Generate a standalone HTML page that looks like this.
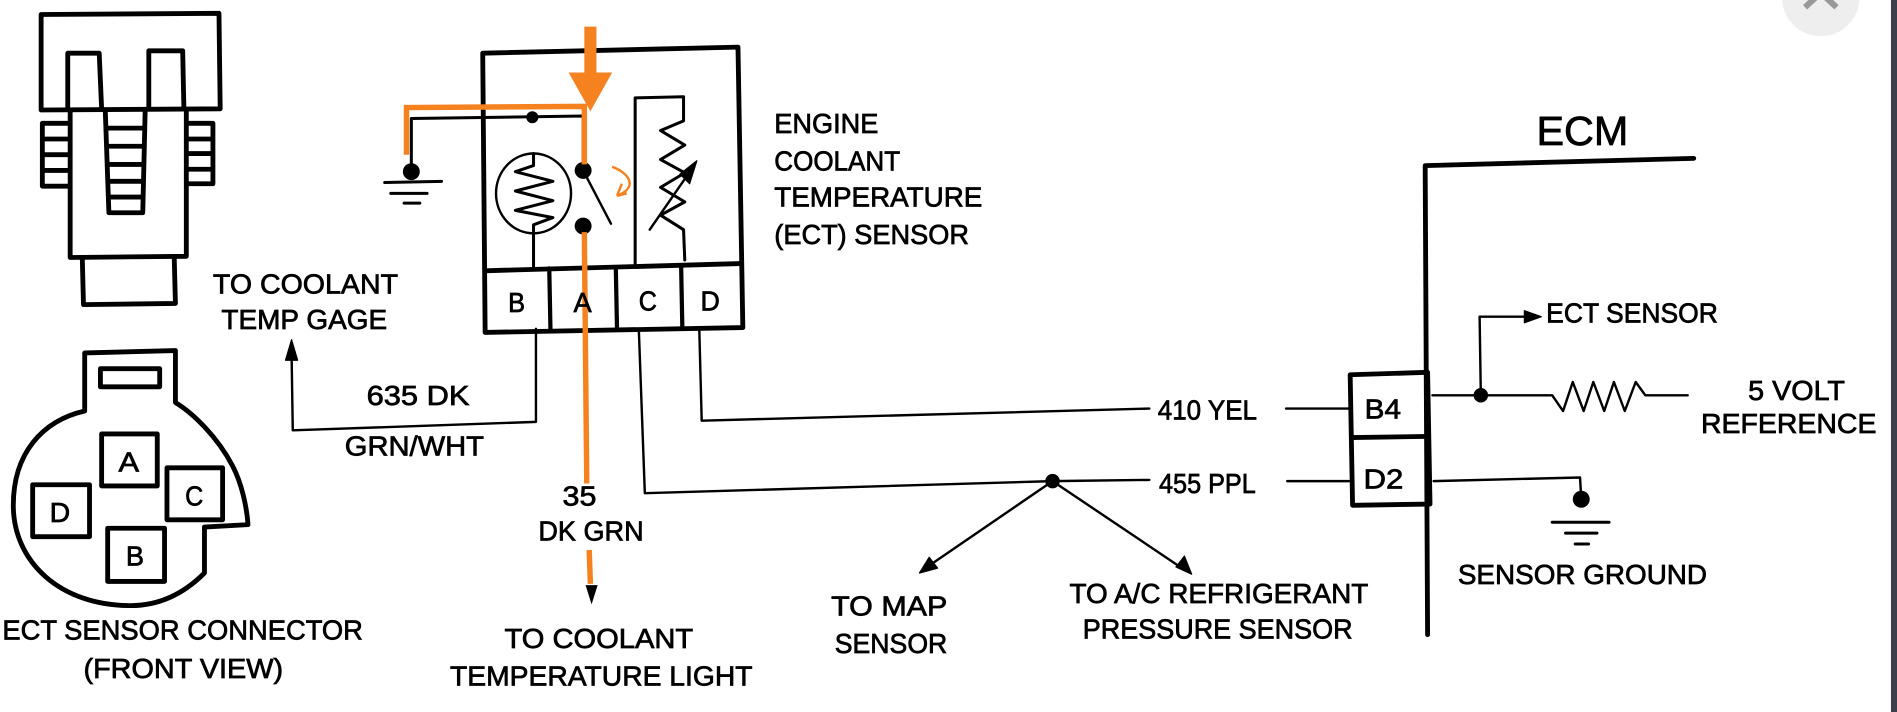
<!DOCTYPE html>
<html><head><meta charset="utf-8"><style>
html,body{margin:0;padding:0;background:#fff;}
svg{display:block;}
text{font-family:"Liberation Sans",sans-serif;font-size:23px;fill:#000;stroke:#000;stroke-width:0.6;}
</style></head><body>
<svg width="1897" height="712" viewBox="0 0 1568 589" preserveAspectRatio="none" xmlns="http://www.w3.org/2000/svg">
<rect width="1568" height="589" fill="#fff"/>
<circle cx="1505" cy="-2" r="32" fill="#eeeeee"/>
<path d="M1492,6 L1505,-6 L1518,6" stroke="#999" stroke-width="5" fill="none"/>
<rect x="1563" y="0" width="5" height="589" fill="#3a3f4a"/>
<g fill="none" stroke="#000" stroke-linecap="round" stroke-linejoin="round">
<!-- connector side view -->
<g stroke-width="4">
<path d="M34,12 L181,11 L182,90 L34,91 Z"/>
<path d="M56,90 L56,44 L82,44 L84,90"/>
<path d="M123,90 L123,42 L151,42 L152,90"/>
<path d="M58,91 L58,213 L154,212 L154,91"/>
<path d="M87,91 L90,176 L118,176 L120,91"/>
<path d="M68,213 L69,252 L145,251 L144,213"/>
<path d="M56,102 L35,102 L35,154 L56,154 M35,115 L56,115 M35,128 L56,128 M35,141 L56,141"/>
<path d="M154,102 L176,102 L176,152 L154,152 M154,115 L176,115 M154,127 L176,127 M154,140 L176,140"/>
<path d="M90,106 L118,106 M90,121 L118,121 M90,136 L118,136 M90,150 L118,150 M90,163 L118,163"/>
</g>
<!-- connector front view -->
<g stroke-width="4">
<path d="M70,340 L70,292 L145,290 L145,333 C160,342 180,362 192,385 C200,400 204,420 205,434 L169,436 L169,474 C150,493 130,501 108,501 C50,501 11,465 11,418 C11,375 35,348 70,340 Z"/>
<rect x="83" y="305" width="49" height="15"/>
<rect x="84" y="359" width="46" height="43"/>
<rect x="27" y="401" width="47" height="43"/>
<rect x="138" y="387" width="46" height="43"/>
<rect x="89" y="437" width="47" height="44"/>
</g>
<!-- sensor box -->
<path d="M399,44 L610,39 L614,271 L401,275 Z" stroke-width="4"/>
<path d="M401,224 L612,218" stroke-width="4"/>
<path d="M454,222 L455,273 M509,221 L510,272 M563,220 L564,271" stroke-width="3.5"/>
<ellipse cx="441" cy="160" rx="31" ry="33" stroke-width="2"/>
<path d="M441,127 L441,137 L426,142 L457,150 L426,158 L457,166 L426,174 L457,180 L441,186 L441,222" stroke-width="2.5"/>
<path d="M340,140 L340,98 L482,96 L482,141" stroke-width="2.5"/>
<path d="M482,141 L505,185" stroke-width="2"/>
<path d="M525,218 L525,81 L565,80 L565,100 L546,108 L566,120 L546,132 L566,143 L546,155 L566,167 L546,178 L565,190 L566,215" stroke-width="2.5"/>
<path d="M537,190 L573,138" stroke-width="2"/>
<path d="M576,133 L570,152 L562,144 Z" fill="#000" stroke-width="1"/>
<path d="M318,151 L365,150 M323,160 L353,160 M334,168 L347,168" stroke-width="2.5"/>
<!-- wires -->
<path d="M443,272 L443,349 L242,356 L241,292" stroke-width="2"/>
<path d="M241,281 L236,298 L246,298 Z" fill="#000" stroke-width="1"/>
<path d="M528,272 L533,408 L870,398 L950,397" stroke-width="2"/>
<path d="M578,272 L580,348 L950,338" stroke-width="2"/>
<path d="M870,398 L765,470 M870,398 L980,472" stroke-width="2"/>
<path d="M760,474 L768,461 L775,470 Z" fill="#000" stroke-width="1"/>
<path d="M985,475 L972,469 L979,460 Z" fill="#000" stroke-width="1"/>
<path d="M1063,338 L1115,338 M1064,398 L1115,398" stroke-width="2"/>
<!-- ECM -->
<path d="M1180,525 L1178,137 L1400,131" stroke-width="4"/>
<path d="M1116,310 L1180,308 L1182,417 L1118,418 Z M1117,362 L1181,361" stroke-width="4"/>
<path d="M1184,327 L1283,327 L1292,340 L1300,316 L1309,340 L1317,316 L1326,340 L1334,316 L1343,340 L1352,316 L1360,327 L1395,327" stroke-width="2"/>
<path d="M1224,327 L1223,262 L1265,262" stroke-width="2"/>
<path d="M1274,262 L1260,257 L1260,267 Z" fill="#000" stroke-width="1"/>
<path d="M1185,398 L1306,395 L1307,412" stroke-width="2"/>
<path d="M1283,432 L1330,432 M1294,441 L1320,441 M1302,450 L1313,450" stroke-width="2.5"/>
</g>
<g fill="#000">
<circle cx="440" cy="97" r="5"/>
<circle cx="340" cy="142" r="7"/>
<circle cx="482" cy="141" r="7"/>
<circle cx="482" cy="187" r="7"/>
<circle cx="870" cy="398" r="6"/>
<circle cx="1224" cy="327" r="6"/>
<circle cx="1307" cy="413" r="7"/>
<path d="M489,500 L484,484 L494,484 Z"/>
</g>
<!-- orange -->
<g fill="none" stroke="#f5821f" stroke-linecap="butt">
<path d="M488,22 L488,70" stroke-width="10"/>
<path d="M336,128 L336,89 L483,88 L483,136" stroke-width="4.5"/>
<path d="M483,192 L485,400" stroke-width="4.5"/>
<path d="M487,455 L488,483" stroke-width="4.5"/>
<path d="M506,138 C520,143 528,155 510,162 M510,162 L514,152 M510,162 L518,160" stroke-width="2"/>
</g>
<path d="M470,60 L506,60 L488,92 Z" fill="#f5821f"/>
<!-- text -->
<g lengthAdjust="spacingAndGlyphs">
<text x="640" y="110" textLength="86" lengthAdjust="spacingAndGlyphs">ENGINE</text>
<text x="640" y="141" textLength="104" lengthAdjust="spacingAndGlyphs">COOLANT</text>
<text x="640" y="171" textLength="172" lengthAdjust="spacingAndGlyphs">TEMPERATURE</text>
<text x="640" y="202" textLength="161" lengthAdjust="spacingAndGlyphs">(ECT) SENSOR</text>
<text x="176" y="243" textLength="153" lengthAdjust="spacingAndGlyphs">TO COOLANT</text>
<text x="183" y="272" textLength="137" lengthAdjust="spacingAndGlyphs">TEMP GAGE</text>
<text x="303" y="335" textLength="85" lengthAdjust="spacingAndGlyphs">635 DK</text>
<text x="285" y="377" textLength="115" lengthAdjust="spacingAndGlyphs">GRN/WHT</text>
<text x="465" y="418" textLength="28" lengthAdjust="spacingAndGlyphs">35</text>
<text x="445" y="447" textLength="87" lengthAdjust="spacingAndGlyphs">DK GRN</text>
<text x="417" y="536" textLength="156" lengthAdjust="spacingAndGlyphs">TO COOLANT</text>
<text x="372" y="567" textLength="250" lengthAdjust="spacingAndGlyphs">TEMPERATURE LIGHT</text>
<text x="2" y="529" textLength="298" lengthAdjust="spacingAndGlyphs">ECT SENSOR CONNECTOR</text>
<text x="69" y="561" textLength="165" lengthAdjust="spacingAndGlyphs">(FRONT VIEW)</text>
<text x="687" y="509" textLength="96" lengthAdjust="spacingAndGlyphs">TO MAP</text>
<text x="690" y="540" textLength="93" lengthAdjust="spacingAndGlyphs">SENSOR</text>
<text x="884" y="499" textLength="247" lengthAdjust="spacingAndGlyphs">TO A/C REFRIGERANT</text>
<text x="895" y="528" textLength="223" lengthAdjust="spacingAndGlyphs">PRESSURE SENSOR</text>
<text x="957" y="347" textLength="82" lengthAdjust="spacingAndGlyphs">410 YEL</text>
<text x="958" y="408" textLength="80" lengthAdjust="spacingAndGlyphs">455 PPL</text>
<text x="1278" y="267" textLength="142" lengthAdjust="spacingAndGlyphs">ECT SENSOR</text>
<text x="1445" y="331" textLength="80" lengthAdjust="spacingAndGlyphs">5 VOLT</text>
<text x="1406" y="358" textLength="145" lengthAdjust="spacingAndGlyphs">REFERENCE</text>
<text x="1205" y="483" textLength="206" lengthAdjust="spacingAndGlyphs">SENSOR GROUND</text>
<text x="1270" y="120" textLength="76" lengthAdjust="spacingAndGlyphs" style="font-size:34px">ECM</text>
<text x="1128" y="346" textLength="30" lengthAdjust="spacingAndGlyphs">B4</text>
<text x="1127" y="404" textLength="33" lengthAdjust="spacingAndGlyphs">D2</text>
<text x="420" y="258" textLength="14" lengthAdjust="spacingAndGlyphs">B</text>
<text x="474" y="258" textLength="15" lengthAdjust="spacingAndGlyphs">A</text>
<text x="528" y="257" textLength="15" lengthAdjust="spacingAndGlyphs">C</text>
<text x="579" y="257" textLength="16" lengthAdjust="spacingAndGlyphs">D</text>
<text x="98" y="390" textLength="17" lengthAdjust="spacingAndGlyphs">A</text>
<text x="41" y="432" textLength="17" lengthAdjust="spacingAndGlyphs">D</text>
<text x="153" y="418" textLength="15" lengthAdjust="spacingAndGlyphs">C</text>
<text x="104" y="468" textLength="15" lengthAdjust="spacingAndGlyphs">B</text>
</g>
</svg>
</body></html>
